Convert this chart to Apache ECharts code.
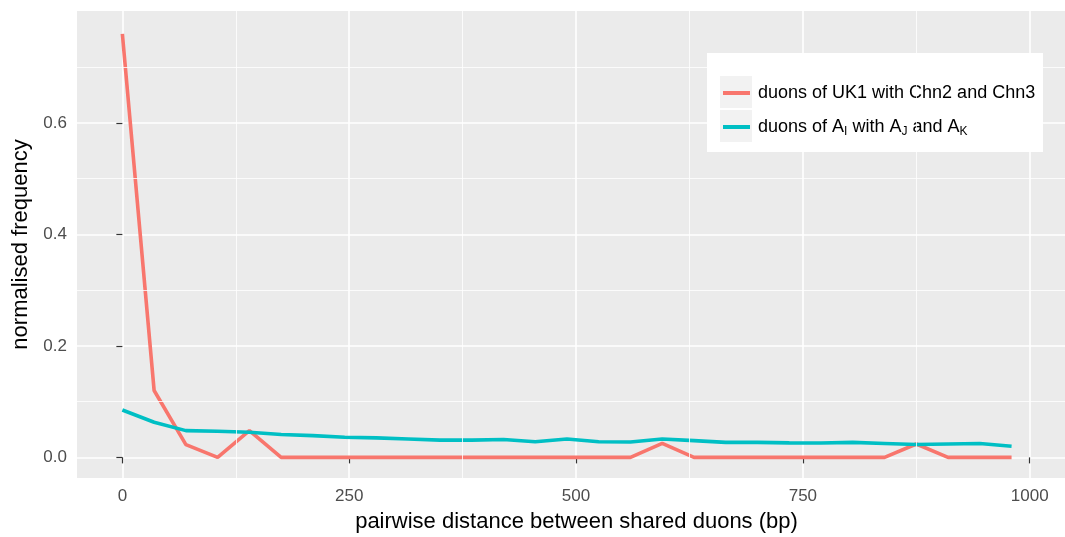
<!DOCTYPE html>
<html>
<head>
<meta charset="utf-8">
<title>Pairwise distance between shared duons</title>
<script src="https://cdn.jsdelivr.net/npm/echarts@6/dist/echarts.min.js"></script>
<style>
  html, body { margin: 0; padding: 0; background: #ffffff; overflow: hidden; }
  #chart { width: 1065px; height: 537px; }
</style>
</head>
<body>
<div id="chart"></div>
<script>
// Bin start positions (bp)
const distances = [0, 35, 70, 105, 140, 175, 210, 245, 280, 315, 350, 385, 420, 455, 490,
                   525, 560, 595, 630, 665, 700, 735, 770, 805, 840, 875, 910, 945, 980];

// Normalised frequency: duons of UK1 with Chn2 and Chn3
const ukFreq = [0.760, 0.120, 0.023, 0.000, 0.048, 0.000, 0.000, 0.000, 0.000, 0.000,
                0.000, 0.000, 0.000, 0.000, 0.000, 0.000, 0.000, 0.025, 0.000, 0.000,
                0.000, 0.000, 0.000, 0.000, 0.000, 0.024, 0.000, 0.000, 0.000];

// Normalised frequency: duons of A_I with A_J and A_K
const aFreq = [0.085, 0.063, 0.048, 0.047, 0.045, 0.041, 0.039, 0.036, 0.035, 0.033,
               0.031, 0.031, 0.032, 0.028, 0.033, 0.028, 0.0275, 0.033, 0.030, 0.027,
               0.027, 0.026, 0.0257, 0.027, 0.025, 0.023, 0.024, 0.025, 0.020];

const seriesNames = ['duons of UK1 with Chn2 and Chn3', 'duons of A_I with A_J and A_K'];

// Axis breaks
const xMajor = [0, 250, 500, 750, 1000];
const xMinor = [125, 375, 625, 875];
const yMajor = [0, 0.2, 0.4, 0.6];
const yMinor = [0.1, 0.3, 0.5, 0.7];

const FONT = '"Liberation Sans", Arial, Helvetica, sans-serif';
const RED = '#F8766D';
const CYAN = '#00BFC4';

const chart = echarts.init(document.getElementById('chart'), null, { renderer: 'canvas' });

const pairs = (vals) => distances.map((d, i) => [d, vals[i]]);

const option = {
  animation: false,
  backgroundColor: '#ffffff',
  grid: {
    left: 77, right: -11, top: 11, bottom: 59,
    outerBoundsMode: 'none',
    containLabel: false,
    show: true, backgroundColor: '#EBEBEB', borderWidth: 0
  },
  xAxis: {
    type: 'value',
    min: -50, max: 1051,
    name: 'pairwise distance between shared duons (bp)',
    nameLocation: 'middle',
    nameGap: 33,
    nameTextStyle: { color: '#000', fontSize: 22, fontFamily: FONT },
    axisLine: { show: false },
    axisTick: { show: true, customValues: xMajor, length: 6, lineStyle: { color: '#333', width: 1.2 } },
    axisLabel: {
      customValues: xMajor, color: '#4D4D4D', fontSize: 17, fontFamily: FONT, margin: 10,
      formatter: (v) => String(v)
    },
    splitLine: { show: true, lineStyle: { color: '#ffffff', width: 1.6 } }
  },
  yAxis: {
    type: 'value',
    min: -0.037, max: 0.801,
    name: 'normalised frequency',
    nameLocation: 'middle',
    nameGap: 45,
    nameTextStyle: { color: '#000', fontSize: 22, fontFamily: FONT },
    axisLine: { show: false },
    axisTick: { show: true, customValues: yMajor, length: 6, lineStyle: { color: '#333', width: 1.2 } },
    axisLabel: {
      customValues: yMajor, color: '#4D4D4D', fontSize: 17, fontFamily: FONT, margin: 10,
      formatter: (v) => v.toFixed(1)
    },
    splitLine: { show: true, lineStyle: { color: '#ffffff', width: 1.6 } }
  },
  legend: {
    orient: 'vertical',
    left: 723, top: 76,
    padding: 0,
    itemGap: 0,
    itemWidth: 27, itemHeight: 4,
    icon: 'rect',
    data: seriesNames,
    textStyle: {
      color: '#000', fontSize: 18, fontFamily: FONT, lineHeight: 34,
      rich: {
        f: { fontSize: 18, fontFamily: FONT, color: '#000', lineHeight: 34, padding: [0, 0, 0, 3] },
        n: { fontSize: 18, fontFamily: FONT, color: '#000', lineHeight: 34 },
        s: { fontSize: 12, fontFamily: FONT, color: '#000', lineHeight: 34, padding: [9, 0, 0, 0] }
      }
    },
    formatter: (name) => {
      if (name === seriesNames[1]) {
        return '{f|duons of A}{s|I}{n| with A}{s|J}{n| and A}{s|K}';
      }
      return '{f|' + name + '}';
    }
  },
  graphic: [
    { type: 'rect', z: 3, silent: true, shape: { x: 707, y: 53, width: 336, height: 99 }, style: { fill: '#ffffff' } },
    { type: 'rect', z: 3, silent: true, shape: { x: 720, y: 76, width: 32, height: 32 }, style: { fill: '#F2F2F2' } },
    { type: 'rect', z: 3, silent: true, shape: { x: 720, y: 110, width: 32, height: 32 }, style: { fill: '#F2F2F2' } }
  ],
  series: [
    {
      name: 'minor-grid',
      type: 'line',
      data: [],
      z: 1,
      silent: true,
      markLine: {
        silent: true,
        symbol: 'none',
        label: { show: false },
        lineStyle: { color: '#ffffff', width: 0.8, type: 'solid' },
        data: yMinor.map((v) => ({ yAxis: v })).concat(xMinor.map((v) => ({ xAxis: v })))
      }
    },
    {
      name: seriesNames[0],
      type: 'line',
      data: pairs(ukFreq),
      symbol: 'none',
      z: 2,
      color: RED,
      lineStyle: { color: RED, width: 3.6 }
    },
    {
      name: seriesNames[1],
      type: 'line',
      data: pairs(aFreq),
      symbol: 'none',
      z: 2,
      color: CYAN,
      lineStyle: { color: CYAN, width: 3.6 }
    }
  ]
};

chart.setOption(option);
</script>
</body>
</html>
